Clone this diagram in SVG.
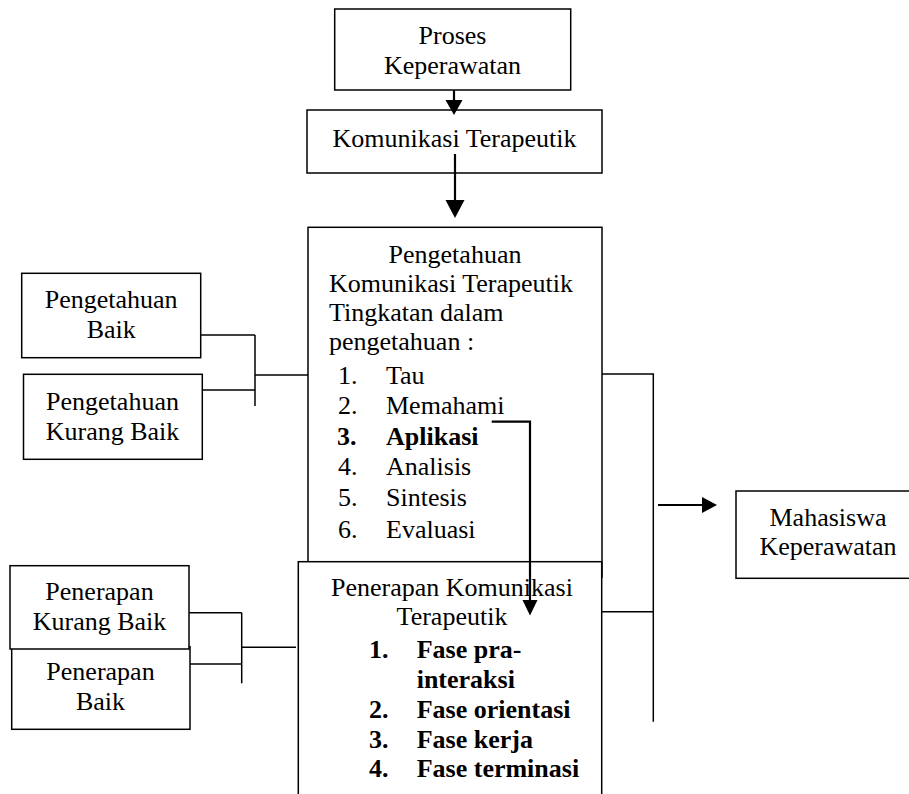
<svg xmlns="http://www.w3.org/2000/svg" width="909" height="794" viewBox="0 0 909 794">
<style>
  .box { fill: #fff; stroke: #000; stroke-width: 1.5; }
  .t { font-family: "Liberation Serif", "Times New Roman", serif; font-size: 26px; fill: #000; }
  .c { text-anchor: middle; }
  .b { font-weight: bold; }
  .ln { fill: none; stroke: #000; stroke-width: 1.5; }
  .ar { fill: none; stroke: #000; stroke-width: 2.2; }
  .hd { fill: #000; stroke: none; }
</style>
<rect width="909" height="794" fill="#fff"/>

<g id="proses">
  <rect class="box" x="334.7" y="9" width="236" height="81"/>
  <text class="t c" x="452.5" y="43.5">Proses</text>
  <text class="t c" x="452.5" y="74">Keperawatan</text>
</g>

<g id="komunikasi">
  <rect class="box" x="307" y="110" width="295" height="63"/>
  <text class="t c" x="454.5" y="146.5">Komunikasi Terapeutik</text>
</g>

<g id="pengetahuan-kt">
  <rect class="box" x="308" y="227.3" width="294" height="350"/>
  <text class="t c" x="455" y="263">Pengetahuan</text>
  <text class="t" x="329" y="292">Komunikasi Terapeutik</text>
  <text class="t" x="329" y="321">Tingkatan dalam</text>
  <text class="t" x="329" y="350">pengetahuan :</text>
  <text class="t" x="338" y="384">1.</text><text class="t" x="386" y="384">Tau</text>
  <text class="t" x="338" y="414">2.</text><text class="t" x="386" y="414">Memahami</text>
  <text class="t b" x="337" y="444.5">3.</text><text class="t b" x="386" y="444.5">Aplikasi</text>
  <text class="t" x="338" y="475">4.</text><text class="t" x="386" y="475">Analisis</text>
  <text class="t" x="338" y="506">5.</text><text class="t" x="386" y="506">Sintesis</text>
  <text class="t" x="338" y="537.5">6.</text><text class="t" x="386" y="537.5">Evaluasi</text>
</g>

<g id="penerapan-kt">
  <rect class="box" x="298.3" y="561.7" width="303.4" height="250"/>
  <text class="t c" x="452" y="596">Penerapan Komunikasi</text>
  <text class="t c" x="452" y="625">Terapeutik</text>
  <text class="t b" x="369" y="658">1.</text><text class="t b" x="416.7" y="658">Fase pra-</text>
  <text class="t b" x="416.7" y="688">interaksi</text>
  <text class="t b" x="369" y="718">2.</text><text class="t b" x="416.7" y="718">Fase orientasi</text>
  <text class="t b" x="369" y="747.5">3.</text><text class="t b" x="416.7" y="747.5">Fase kerja</text>
  <text class="t b" x="369" y="777">4.</text><text class="t b" x="416.7" y="777">Fase terminasi</text>
</g>

<g id="pengetahuan-baik">
  <rect class="box" x="21.7" y="273.3" width="179" height="84.4"/>
  <text class="t c" x="111.2" y="308">Pengetahuan</text>
  <text class="t c" x="111.2" y="338">Baik</text>
</g>

<g id="pengetahuan-kurang-baik">
  <rect class="box" x="23.5" y="374.3" width="178.8" height="85"/>
  <text class="t c" x="112.5" y="410">Pengetahuan</text>
  <text class="t c" x="112.5" y="440">Kurang Baik</text>
</g>

<g id="penerapan-baik">
  <rect class="box" x="11.7" y="646.7" width="178.3" height="82.6"/>
  <text class="t c" x="100.5" y="680">Penerapan</text>
  <text class="t c" x="100.5" y="710">Baik</text>
</g>

<g id="penerapan-kurang-baik">
  <rect class="box" x="10" y="565.7" width="179" height="83.3"/>
  <text class="t c" x="99.5" y="600">Penerapan</text>
  <text class="t c" x="99.5" y="630">Kurang Baik</text>
</g>

<g id="mahasiswa">
  <rect class="box" x="736" y="491" width="186" height="87.3"/>
  <text class="t c" x="828" y="526">Mahasiswa</text>
  <text class="t c" x="828" y="555">Keperawatan</text>
</g>

<g id="connectors">
  <!-- Proses -> Komunikasi -->
  <line class="ar" x1="454" y1="90" x2="454" y2="101"/>
  <polygon class="hd" points="445.5,100 462.5,100 454,115"/>
  <!-- Komunikasi -> Pengetahuan KT -->
  <line class="ar" x1="455" y1="154" x2="455" y2="201"/>
  <polygon class="hd" points="445.5,200 464.5,200 455,218"/>
  <!-- Pengetahuan Baik / Kurang Baik bracket -->
  <polyline class="ln" points="200.7,335 255,335"/>
  <polyline class="ln" points="202.3,390 255,390"/>
  <line class="ln" x1="255" y1="335" x2="255" y2="406"/>
  <line class="ln" x1="255" y1="375" x2="308" y2="375"/>
  <!-- Penerapan bracket -->
  <line class="ln" x1="189" y1="612.7" x2="241.7" y2="612.7"/>
  <line class="ln" x1="190" y1="664" x2="241.7" y2="664"/>
  <line class="ln" x1="241.7" y1="612.7" x2="241.7" y2="683.3"/>
  <line class="ln" x1="241.7" y1="647.3" x2="296" y2="647.3"/>
  <!-- Memahami -> Penerapan -->
  <polyline class="ar" points="491.7,421.7 530,421.7 530,601"/>
  <polygon class="hd" points="522.5,600 537.5,600 530,615.5"/>
  <!-- Right bracket -->
  <polyline class="ln" points="602,374 653.3,374 653.3,721.7"/>
  <line class="ln" x1="601.7" y1="611.7" x2="653.3" y2="611.7"/>
  <!-- -> Mahasiswa -->
  <line class="ar" x1="658" y1="505" x2="703" y2="505"/>
  <polygon class="hd" points="702,497 717,505 702,513"/>
</g>
</svg>
